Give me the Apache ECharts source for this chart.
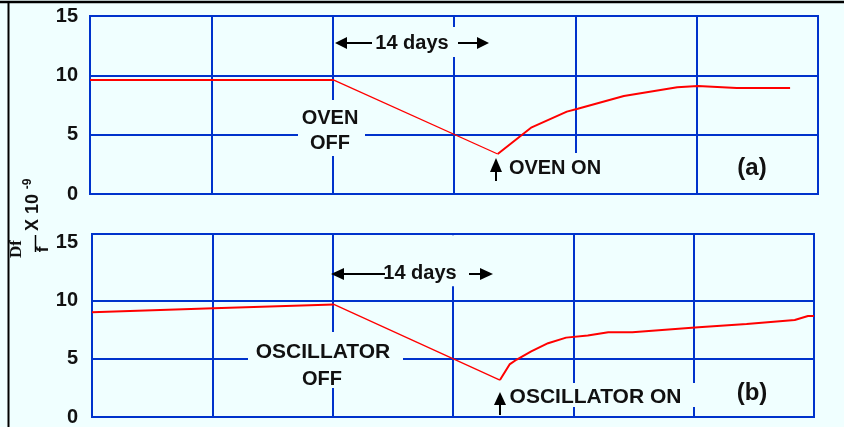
<!DOCTYPE html>
<html><head><meta charset="utf-8">
<script src="https://cdn.jsdelivr.net/npm/echarts@6/dist/echarts.min.js"></script>
<style>html,body{margin:0;padding:0;background:#f0ffff;}#c{width:844px;height:427px;}</style>
</head><body><div id="c"></div>
<script>
// x positions are in grid divisions (0..6), values in units of 1e-9
const panelA_x = [0, 2.01, 3.36, 3.64, 3.93, 4.02, 4.40, 4.84, 5.01, 5.33, 5.77];
const panelA_y = [9.6, 9.6, 3.37, 5.62, 6.94, 7.19, 8.26, 8.99, 9.10, 8.93, 8.93];
const panelA_offIndex = 1;   // oven switched off
const panelA_onIndex = 2;    // oven switched on

const panelB_x = [0, 1.01, 2.01, 3.39, 3.47, 3.53, 3.65, 3.79, 3.94, 4.12, 4.29, 4.49, 5.04, 5.44, 5.84, 5.95, 6.0];
const panelB_y = [8.99, 9.33, 9.66, 3.17, 4.51, 4.93, 5.63, 6.33, 6.81, 7.0, 7.28, 7.28, 7.7, 7.98, 8.32, 8.66, 8.66];
const panelB_offIndex = 2;   // oscillator switched off
const panelB_onIndex = 3;    // oscillator switched on

const yTicks = [0, 5, 10, 15];
const panelLabels = ['(a)', '(b)'];
const offLabels = [['OVEN', 'OFF'], ['OSCILLATOR', 'OFF']];
const onLabels = ['OVEN ON', 'OSCILLATOR ON'];
const spanLabel = '14 days';

const BLUE = '#0033cc', RED = '#ff0000', BG = '#f0ffff', INK = '#111111';
const SANS = '"Liberation Sans", Arial, sans-serif';

function seg(xs, ys, a, b) { const o = []; for (let i = a; i <= b; i++) o.push([xs[i], ys[i]]); return o; }
function panelSeries(xs, ys, offI, onI, idx) {
  const base = { type: 'line', xAxisIndex: idx, yAxisIndex: idx, symbol: 'none', silent: true, z: 3 };
  return [
    Object.assign({}, base, { data: seg(xs, ys, 0, offI), lineStyle: { color: RED, width: 2 } }),
    Object.assign({}, base, { data: seg(xs, ys, offI, onI), lineStyle: { color: RED, width: 1.3 } }),
    Object.assign({}, base, { data: seg(xs, ys, onI, xs.length - 1), lineStyle: { color: RED, width: 2 } })
  ];
}
function xAx(idx) {
  return { type: 'value', gridIndex: idx, min: 0, max: 6, interval: 1,
    axisLine: { show: false }, axisTick: { show: false }, axisLabel: { show: false },
    splitLine: { show: true, lineStyle: { color: BLUE, width: 2 } } };
}
function yAx(idx, max, margin, colors) {
  return { type: 'value', gridIndex: idx, min: 0, max: max, interval: 5,
    axisLine: { show: false }, axisTick: { show: false },
    axisLabel: { margin: margin, color: INK, fontWeight: 'bold', fontSize: 20, fontFamily: SANS,
      formatter: v => (yTicks.indexOf(v) >= 0 ? String(v) : '') },
    splitLine: { show: true, lineStyle: { color: colors, width: 2 } } };
}
function txt(t, x, y, size, extra) {
  return Object.assign({ type: 'text', x: x, y: y, z: 10,
    style: { text: t, font: 'bold ' + size + 'px ' + SANS, fill: INK, textAlign: 'center', textVerticalAlign: 'middle' } }, extra || {});
}
function mask(x, y, w, h) { return { type: 'rect', z: 1, shape: { x: x, y: y, width: w, height: h }, style: { fill: BG } }; }
function line(x1, y1, x2, y2, w) { return { type: 'line', z: 10, shape: { x1: x1, y1: y1, x2: x2, y2: y2 }, style: { stroke: '#000', lineWidth: w || 2 } }; }
function poly(pts) { return { type: 'polygon', z: 10, shape: { points: pts }, style: { fill: '#000' } }; }

const graphics = [
  // outer frame
  line(0, 2, 844, 2, 2.5), line(8.5, 2, 8.5, 427, 2),
  // masks that break grid lines around annotations
  mask(371, 27, 89, 30), mask(298, 100, 67, 56), mask(488, 153, 118, 40),
  mask(380, 235.2, 80, 51), mask(248, 332, 155, 56), mask(490, 383, 212, 24),
  // panel (a) annotations
  poly([[335, 43], [347, 37], [347, 49]]), line(346, 43, 372, 43),
  txt(spanLabel, 412, 43, 20),
  line(458, 43, 478, 43), poly([[489, 43], [477, 37], [477, 49]]),
  txt(offLabels[0][0], 330, 118, 20), txt(offLabels[0][1], 330, 143.5, 20),
  poly([[496, 158], [490, 172], [502, 172]]), line(496, 171, 496, 181),
  txt(onLabels[0], 555, 168, 20),
  txt(panelLabels[0], 752, 168, 24),
  // panel (b) annotations
  poly([[331, 274], [344, 268], [344, 280]]), line(343, 274, 385, 274),
  txt(spanLabel, 420, 273, 20),
  line(469, 274, 481, 274), poly([[493, 274], [480, 268], [480, 280]]),
  txt(offLabels[1][0], 323, 352, 21), txt(offLabels[1][1], 322, 379, 20),
  poly([[500, 392], [494, 405], [506, 405]]), line(500, 404, 500, 415),
  txt(onLabels[1], 595.5, 397.5, 21),
  txt(panelLabels[1], 752, 393, 24),
  // y-axis title: Df / f  X 10^-9 (rotated)
  { type: 'text', x: 16.5, y: 249, rotation: Math.PI / 2, z: 10,
    style: { text: 'Df', font: 'bold 17px "Liberation Serif", serif', fill: INK, textAlign: 'center', textVerticalAlign: 'middle' } },
  line(35.5, 235, 35.5, 252, 1.5),
  { type: 'text', x: 43, y: 249.5, rotation: Math.PI / 2, z: 10,
    style: { text: 'f', font: 'bold 17px ' + SANS, fill: INK, textAlign: 'center', textVerticalAlign: 'middle' } },
  { type: 'text', x: 33.5, y: 212.5, rotation: Math.PI / 2, z: 10,
    style: { text: 'X 10', font: 'bold 18px ' + SANS, fill: INK, textAlign: 'center', textVerticalAlign: 'middle' } },
  { type: 'text', x: 27.5, y: 184, rotation: Math.PI / 2, z: 10,
    style: { text: '-9', font: 'bold 12px ' + SANS, fill: INK, textAlign: 'center', textVerticalAlign: 'middle' } }
];

const chart = echarts.init(document.getElementById('c'), null, { renderer: 'canvas' });
chart.setOption({
  animation: false,
  backgroundColor: BG,
  grid: [
    { left: 90, top: 16, width: 728, height: 178, show: true, borderColor: BLUE, borderWidth: 2, backgroundColor: 'transparent' },
    { left: 92, top: 234, width: 722, height: 187, show: true, borderColor: BLUE, borderWidth: 2, backgroundColor: 'transparent' }
  ],
  xAxis: [xAx(0), xAx(1)],
  yAxis: [
    yAx(0, 15, 12, BLUE),
    yAx(1, 15.7, 14, [BLUE, BLUE, BLUE, 'rgba(0,0,0,0)', BLUE])
  ],
  series: panelSeries(panelA_x, panelA_y, panelA_offIndex, panelA_onIndex, 0)
    .concat(panelSeries(panelB_x, panelB_y, panelB_offIndex, panelB_onIndex, 1)),
  graphic: graphics
});
</script></body></html>
